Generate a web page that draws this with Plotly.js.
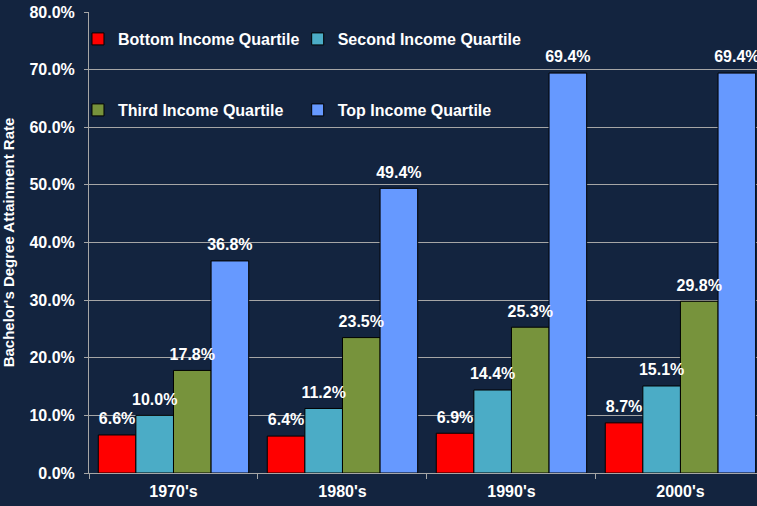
<!DOCTYPE html>
<html>
<head>
<meta charset="utf-8">
<script src="https://cdn.plot.ly/plotly-3.0.1.min.js"></script>
<style>html,body{margin:0;padding:0;background:#13243f;}#chart{width:757px;height:506px;}</style>
</head>
<body>
<div id="chart"></div>
<script>
const categories = ["1970's", "1980's", "1990's", "2000's"];
const seriesNames = ["Bottom Income Quartile", "Second Income Quartile", "Third Income Quartile", "Top Income Quartile"];
const bottomQuartile = [6.6, 6.4, 6.9, 8.7];
const secondQuartile = [10.0, 11.2, 14.4, 15.1];
const thirdQuartile = [17.8, 23.5, 25.3, 29.8];
const topQuartile = [36.8, 49.4, 69.4, 69.4];
const yTickValues = [0, 10, 20, 30, 40, 50, 60, 70, 80];

const colors = ["#ff0000", "#4bacc6", "#77933c", "#6699ff"];
const seriesValues = [bottomQuartile, secondQuartile, thirdQuartile, topQuartile];
const legendIds = ["legend", "legend2", "legend3", "legend4"];
const FONT = "Liberation Sans, Arial, sans-serif";
const labelFont = {family: FONT, size: 16, color: "#ffffff", weight: "bold"};

const barTraces = seriesValues.map((vals, i) => ({
  type: "bar",
  name: seriesNames[i],
  x: categories,
  y: vals,
  offsetgroup: "g" + i,
  legend: legendIds[i],
  marker: {color: colors[i], line: {color: "#000000", width: 1}},
  hoverinfo: "skip"
}));

const labelTraces = seriesValues.map((vals, i) => ({
  type: "scatter",
  mode: "markers+text",
  x: categories,
  y: vals,
  offsetgroup: "g" + i,
  showlegend: false,
  marker: {size: 9, opacity: 0, color: colors[i]},
  text: vals.map(v => v.toFixed(1) + "%"),
  textposition: "top center",
  textfont: labelFont,
  cliponaxis: false,
  hoverinfo: "skip"
}));

const legendCommon = {
  orientation: "h",
  bgcolor: "rgba(0,0,0,0)",
  font: {family: FONT, size: 16, color: "#ffffff", weight: "bold"},
  xref: "paper", yref: "paper",
  xanchor: "left", yanchor: "middle"
};
const colA = -0.0165, colB = 0.3124, rowA = 0.9414, rowB = 0.7874;

const layout = {
  width: 757, height: 506,
  margin: {l: 89, r: 0, t: 12, b: 33},
  paper_bgcolor: "#13243f",
  plot_bgcolor: "#13243f",
  font: {family: FONT, color: "#ffffff", weight: "bold"},
  barmode: "group",
  scattermode: "group",
  bargap: 0.11,
  bargroupgap: 0,
  scattergap: 0.11,
  showlegend: true,
  legend: Object.assign({}, legendCommon, {x: colA, y: rowA}),
  legend2: Object.assign({}, legendCommon, {x: colB, y: rowA}),
  legend3: Object.assign({}, legendCommon, {x: colA, y: rowB}),
  legend4: Object.assign({}, legendCommon, {x: colB, y: rowB}),
  xaxis: {
    type: "category",
    range: [-0.5, 3.453],
    showline: true, linecolor: "#a6a6a6", linewidth: 1,
    ticks: "outside", tickson: "boundaries", ticklen: 5, tickcolor: "#a6a6a6",
    ticklabelstandoff: 4,
    tickfont: {family: FONT, size: 16, color: "#ffffff", weight: "bold"},
    showgrid: false, fixedrange: true
  },
  yaxis: {
    range: [0, 80],
    tickvals: yTickValues,
    ticktext: yTickValues.map(v => v.toFixed(1) + "%"),
    showline: true, linecolor: "#a6a6a6", linewidth: 1,
    ticks: "outside", ticklen: 4, tickcolor: "#a6a6a6",
    ticklabelstandoff: 6,
    showgrid: true, gridcolor: "#a6a6a6", gridwidth: 1,
    zeroline: false,
    tickfont: {family: FONT, size: 16, color: "#ffffff", weight: "bold"},
    title: {text: "Bachelor's Degree Attainment Rate", standoff: 13, font: {family: FONT, size: 15, color: "#ffffff", weight: "bold"}},
    fixedrange: true
  }
};

Plotly.newPlot("chart", barTraces.concat(labelTraces), layout, {displayModeBar: false, staticPlot: true});
</script>
</body>
</html>
